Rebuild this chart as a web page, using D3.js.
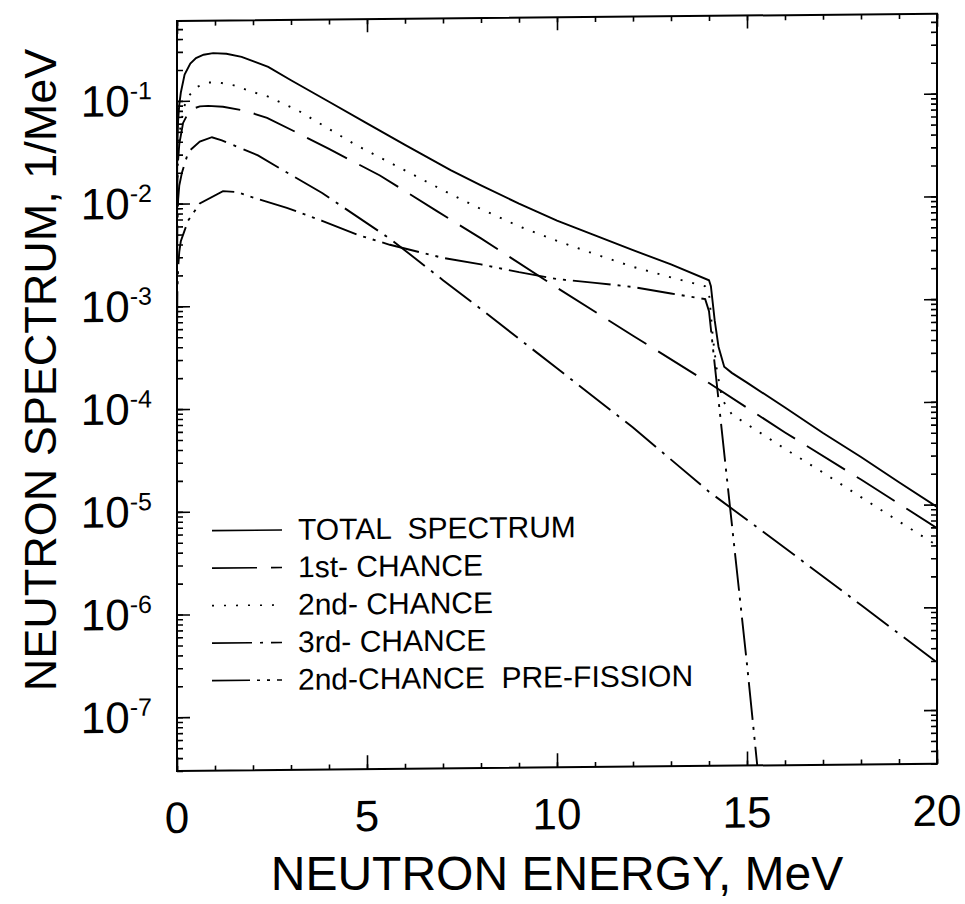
<!DOCTYPE html>
<html>
<head>
<meta charset="utf-8">
<script src="https://cdn.jsdelivr.net/npm/d3@7"></script>
<style>
  body { margin: 0; background: #fff; }
  svg { display: block; }
  text { font-family: "Liberation Sans", Arial, sans-serif; fill: #000; }
</style>
</head>
<body>
<svg id="chart" width="965" height="904"></svg>
<script>
// values (energy in MeV, spectrum in 1/MeV)
const totalE = [0.002, 0.01, 0.03, 0.06, 0.1, 0.2, 0.35, 0.5, 0.7, 0.95, 1.3, 1.7, 2.4, 3, 4, 5, 6, 7.2, 8, 9, 10, 11, 12, 13, 14.0, 14.05, 14.15, 14.25, 14.4, 14.6, 15, 16, 17, 18, 19, 20];
const totalV = [0.017, 0.038, 0.065, 0.092, 0.12, 0.18, 0.23, 0.26, 0.28, 0.29, 0.285, 0.265, 0.21, 0.155, 0.095, 0.058, 0.0355, 0.020, 0.0141, 0.0093, 0.0063, 0.0045, 0.0032, 0.0023, 0.0016, 0.0014, 6.5e-4, 3.6e-4, 2.3e-4, 2.0e-4, 1.6e-4, 9.1e-5, 5.1e-5, 2.95e-5, 1.66e-5, 9.5e-6];

const firstE = [0.002, 0.01, 0.03, 0.06, 0.16, 0.34, 0.6, 0.82, 1.21, 1.8, 2.37, 3.2, 4.0, 5.34, 6.84, 8, 10, 12, 14, 16, 18, 20];
const firstV = [0.007, 0.016, 0.027, 0.038, 0.061, 0.082, 0.088, 0.089, 0.087, 0.079, 0.067, 0.047, 0.033, 0.018, 0.0080, 0.0043, 0.0014, 4.7e-4, 1.6e-4, 5.2e-5, 1.78e-5, 5.9e-6];

const secondE = [0.002, 0.01, 0.03, 0.06, 0.1, 0.2, 0.3, 0.5, 0.8, 1.1, 1.5, 2.0, 2.4, 3.2, 4.7, 5.6, 7.1, 8, 9, 10, 11, 12, 13, 13.9, 14.0, 14.1, 14.2, 14.35, 14.6, 15, 16, 17, 18, 19, 20];
const secondV = [0.008, 0.018, 0.031, 0.045, 0.06, 0.09, 0.11, 0.135, 0.15, 0.15, 0.14, 0.12, 0.108, 0.078, 0.036, 0.024, 0.0122, 0.0083, 0.0056, 0.004, 0.00295, 0.0022, 0.00172, 0.0014, 0.0012, 4.5e-4, 2.2e-4, 1.1e-4, 7.9e-5, 6.3e-5, 3.6e-5, 2.1e-5, 1.2e-5, 6.9e-6, 4e-6];

const thirdE = [0.002, 0.01, 0.03, 0.06, 0.13, 0.3, 0.6, 0.92, 1.18, 2.13, 2.76, 3.82, 5.3, 5.66, 7, 8, 10, 12, 14, 16, 18, 20];
const thirdV = [0.0025, 0.006, 0.011, 0.015, 0.020, 0.032, 0.040, 0.044, 0.041, 0.029, 0.021, 0.0123, 0.0052, 0.0042, 1.7e-3, 8.8e-4, 2.3e-4, 6.0e-5, 1.4e-5, 3.9e-6, 1.07e-6, 2.9e-7];

const preE = [0.002, 0.01, 0.03, 0.06, 0.1, 0.29, 0.6, 1.21, 1.58, 1.87, 2.89, 3.82, 4.74, 5.6, 7, 8, 9, 10, 11, 12, 13, 13.9, 14.0, 14.5, 15.0, 15.4];
const preV = [0.0006, 0.0014, 0.0024, 0.0034, 0.0043, 0.0068, 0.0100, 0.0131, 0.0128, 0.0117, 0.0089, 0.0066, 0.0048, 0.0038, 0.0028, 0.0024, 0.0020, 0.0017, 0.00155, 0.0014, 0.0012, 0.00105, 8e-4, 1.5e-5, 2.9e-7, 1e-8];

const xTickValues = [0, 5, 10, 15, 20];
const yExponents = [-1, -2, -3, -4, -5, -6, -7];
const legendLabels = ["TOTAL  SPECTRUM", "1st- CHANCE", "2nd- CHANCE", "3rd- CHANCE", "2nd-CHANCE  PRE-FISSION"];
const dashes = [null, "45,14", "2,10", "40,8,3,8", "38,7,3,7,3,7"];

const series = [
  {e: totalE, v: totalV},
  {e: firstE, v: firstV},
  {e: secondE, v: secondV},
  {e: thirdE, v: thirdV},
  {e: preE, v: preV}
];

const svg = d3.select("#chart");
const pLeft = 177, pRight = 937, pTop = 21, pBottom = 771;

const x = d3.scaleLinear().domain([0, 20]).range([pLeft, pRight]);
const y = d3.scaleLog().domain([3e-8, 0.6]).range([pBottom, pTop]);

// the scanned frame is slightly sheared, so the plot group gets a tiny skew
const plot = svg.append("g")
  .attr("transform", `translate(${pLeft},0) skewY(-0.55) translate(${-pLeft},0)`);

plot.append("defs").append("clipPath").attr("id", "clip")
  .append("rect").attr("x", pLeft).attr("y", pTop)
  .attr("width", pRight - pLeft).attr("height", pBottom - pTop);

// minor / major ticks on every side, pointing inward
const minorX = d3.range(0, 21, 1);
const minorY = [];
for (let p = -8; p <= -1; p++) for (let k = 1; k <= 9; k++) {
  const val = k * Math.pow(10, p);
  if (val >= 3e-8 && val <= 0.6) minorY.push(val);
}
const majorY = yExponents.map(p => Math.pow(10, p));

function addAxis(axis, tr) {
  plot.append("g").attr("transform", tr).call(axis)
    .call(g => g.select(".domain").remove())
    .call(g => g.selectAll("text").remove())
    .call(g => g.selectAll("line").attr("stroke", "#000").attr("stroke-width", 1.6));
}
addAxis(d3.axisBottom(x).tickValues(minorX).tickSize(-5), `translate(0,${pBottom})`);
addAxis(d3.axisBottom(x).tickValues(xTickValues).tickSize(-14), `translate(0,${pBottom})`);
addAxis(d3.axisTop(x).tickValues(minorX).tickSize(-5), `translate(0,${pTop})`);
addAxis(d3.axisTop(x).tickValues(xTickValues).tickSize(-13), `translate(0,${pTop})`);
addAxis(d3.axisLeft(y).tickValues(minorY).tickSize(-6), `translate(${pLeft},0)`);
addAxis(d3.axisLeft(y).tickValues(majorY).tickSize(-13), `translate(${pLeft},0)`);
addAxis(d3.axisRight(y).tickValues(minorY).tickSize(-6), `translate(${pRight},0)`);
addAxis(d3.axisRight(y).tickValues(majorY).tickSize(-13), `translate(${pRight},0)`);

plot.append("rect")
  .attr("x", pLeft).attr("y", pTop)
  .attr("width", pRight - pLeft).attr("height", pBottom - pTop)
  .attr("fill", "none").attr("stroke", "#000").attr("stroke-width", 2);

// curves
const line = d3.line().x(d => x(d[0])).y(d => y(d[1]));
series.forEach((s, i) => {
  plot.append("path")
    .datum(s.e.map((e, j) => [e, s.v[j]]))
    .attr("clip-path", "url(#clip)")
    .attr("d", line)
    .attr("fill", "none")
    .attr("stroke", "#000")
    .attr("stroke-width", 1.9)
    .attr("stroke-dasharray", dashes[i]);
});

// tick labels
plot.selectAll(".xlab").data(xTickValues).join("text")
  .attr("class", "xlab")
  .attr("x", d => x(d)).attr("y", pBottom + 62)
  .attr("text-anchor", "middle").attr("font-size", 44)
  .text(d => d);

const ylab = plot.selectAll(".ylab").data(yExponents).join("text")
  .attr("class", "ylab")
  .attr("x", 152).attr("y", d => y(Math.pow(10, d)) + 15)
  .attr("text-anchor", "end").attr("font-size", 44);
ylab.append("tspan").text("10");
ylab.append("tspan").attr("font-size", 25).attr("dy", -17).text(d => "-" + (-d));

// legend
const leg = plot.append("g");
legendLabels.forEach((lab, i) => {
  const by = 541 + i * 37.5;
  leg.append("line")
    .attr("x1", 212).attr("x2", 282).attr("y1", by - 10).attr("y2", by - 10)
    .attr("stroke", "#000").attr("stroke-width", 1.6)
    .attr("stroke-dasharray", dashes[i]);
  leg.append("text")
    .attr("x", 298).attr("y", by)
    .attr("font-size", 30)
    .style("white-space", "pre")
    .text(lab);
});

// axis titles
svg.append("text")
  .attr("x", (pLeft + pRight) / 2).attr("y", 890)
  .attr("text-anchor", "middle").attr("font-size", 48)
  .text("NEUTRON ENERGY, MeV");

svg.append("text")
  .attr("transform", "translate(56,370) rotate(-90)")
  .attr("text-anchor", "middle").attr("font-size", 45)
  .text("NEUTRON SPECTRUM, 1/MeV");
</script>
</body>
</html>
